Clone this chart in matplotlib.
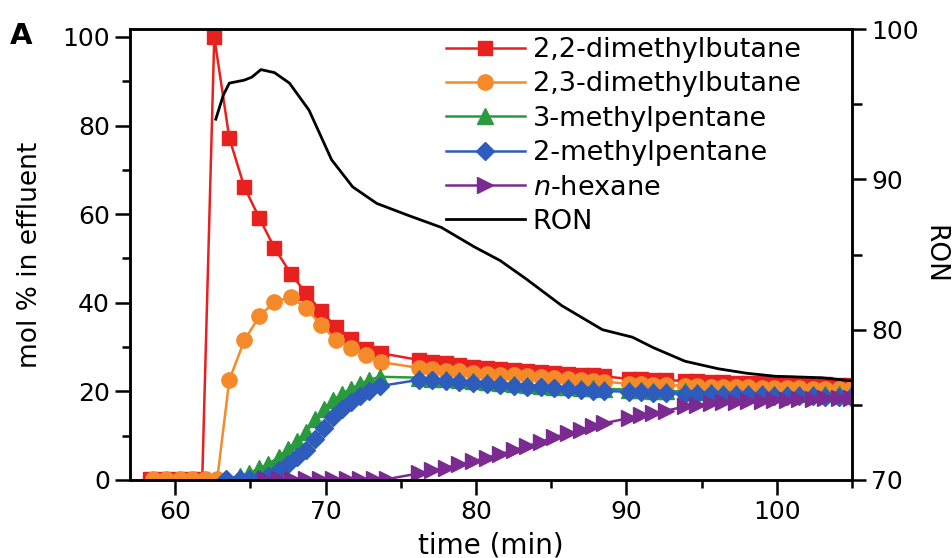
import matplotlib
matplotlib.use("Agg")
import matplotlib.pyplot as plt
from matplotlib.ticker import MultipleLocator

plt.rcParams['font.family'] = ['DejaVu Sans']

# late sampling times shared by all isomers (min)
t_late = [76.2, 77.1, 78.0, 78.9, 79.8, 80.7, 81.6, 82.5, 83.4, 84.3, 85.2, 86.1, 87.0, 87.8, 88.5,
          90.2, 91.0, 91.8, 92.6, 93.9, 94.7, 95.6, 96.4, 97.3, 98.1, 99.0, 99.8, 100.7, 101.5,
          102.4, 103.2, 104.1, 104.9]

# 2,2-dimethylbutane
t_22dmb = [58.3, 59.2, 60.1, 61.0, 61.8, 62.6, 63.6, 64.6, 65.6, 66.6, 67.7, 68.7, 69.7, 70.7,
           71.7, 72.7, 73.7] + t_late
y_22dmb = [0.3, 0.3, 0.3, 0.3, 0.3, 100.0, 77.2, 66.1, 59.1, 52.4, 46.5, 42.2, 38.1, 34.5,
           31.8, 29.6, 28.6,
           27.1, 26.7, 26.3, 26.0, 25.6, 25.3, 25.0, 24.8, 24.6, 24.4, 24.2, 24.0, 23.8, 23.6, 23.4,
           22.8, 22.7, 22.6, 22.5, 22.4, 22.3, 22.2, 22.1, 22.0, 22.0, 21.9, 21.8, 21.8, 21.7,
           21.6, 21.6, 21.5, 21.5]

# 2,3-dimethylbutane
t_23dmb = [58.5, 59.4, 60.3, 61.1, 62.0, 62.8, 63.6, 64.6, 65.6, 66.6, 67.7, 68.7, 69.7, 70.7,
           71.7, 72.7, 73.7] + t_late
y_23dmb = [0.3, 0.3, 0.3, 0.3, 0.3, 0.3, 22.6, 31.5, 37.0, 40.2, 41.3, 38.8, 35.0, 31.6,
           29.8, 28.2, 26.6,
           25.3, 25.0, 24.7, 24.5, 24.2, 24.0, 23.8, 23.6, 23.4, 23.2, 23.0, 22.8, 22.6, 22.4, 22.2,
           21.7, 21.6, 21.5, 21.4, 21.3, 21.2, 21.1, 21.0, 20.9, 20.9, 20.8, 20.8, 20.7, 20.7,
           20.6, 20.6, 20.5, 20.5]

# 3-methylpentane
t_3mp = [63.4, 64.3, 64.9, 65.6, 66.2, 66.9, 67.5, 68.1, 68.7, 69.3, 69.9, 70.5, 71.1, 71.7,
         72.3, 72.9, 73.6] + t_late
y_3mp = [0.3, 0.8, 1.5, 2.7, 3.6, 5.2, 7.0, 8.8, 10.8, 13.8, 16.0, 18.0, 19.5, 20.6,
         21.7, 22.6, 23.3,
         23.1, 22.9, 22.7, 22.5, 22.3, 22.1, 21.9, 21.7, 21.5, 21.3, 21.1, 21.0, 20.8, 20.7, 20.6,
         20.4, 20.3, 20.2, 20.1, 20.0, 19.9, 19.8, 19.7, 19.7, 19.6, 19.6, 19.5, 19.5, 19.4,
         19.4, 19.3, 19.3, 19.2]

# 2-methylpentane
t_2mp = [63.4, 64.3, 64.9, 65.6, 66.2, 66.9, 67.5, 68.1, 68.7, 69.3, 69.9, 70.5, 71.1, 71.7,
         72.3, 72.9, 73.6] + t_late
y_2mp = [0.2, 0.2, 0.2, 0.2, 0.8, 2.2, 3.6, 5.2, 6.8, 9.2, 11.8, 14.3, 16.0, 17.6,
         18.9, 20.1, 21.2,
         22.6, 22.5, 22.3, 22.1, 21.9, 21.7, 21.5, 21.3, 21.1, 20.9, 20.7, 20.5, 20.4, 20.2, 20.1,
         19.9, 19.8, 19.7, 19.6, 19.5, 19.4, 19.3, 19.2, 19.2, 19.1, 19.1, 19.0, 19.0, 18.9,
         18.9, 18.8, 18.8, 18.7]

# n-hexane
t_nhex = [66.0, 66.9, 67.8, 68.7, 69.6, 70.5, 71.4, 72.3, 73.2, 74.1] + t_late
y_nhex = [0.2, 0.2, 0.2, 0.2, 0.2, 0.2, 0.2, 0.2, 0.2, 0.2,
          1.5, 2.2, 2.8, 3.5, 4.2, 5.0, 5.8, 6.7, 7.6, 8.6, 9.6, 10.5, 11.3, 12.1, 12.8,
          14.0, 14.6, 15.1, 15.6, 16.6, 17.0, 17.3, 17.5, 17.7, 17.8, 17.9, 18.0, 18.1,
          18.2, 18.3, 18.4, 18.5, 18.6]

# research octane number (right axis)
t_ron = [62.7, 63.2, 63.6, 64.6, 65.1, 65.7, 66.6, 67.6, 68.9, 70.4, 71.8, 73.4, 75.5, 77.7,
         79.9, 81.6, 83.3, 85.7, 88.4, 90.4, 91.8, 93.9, 96.1, 98.0, 99.9, 101.5, 103.0, 105.0]
ron = [94.0, 95.6, 96.4, 96.6, 96.8, 97.3, 97.1, 96.4, 94.6, 91.3, 89.5, 88.4, 87.6, 86.8,
       85.5, 84.6, 83.4, 81.6, 80.0, 79.5, 78.8, 77.9, 77.4, 77.1, 76.9, 76.85, 76.8, 76.6]

labels = ['2,2-dimethylbutane', '2,3-dimethylbutane', '3-methylpentane',
          '2-methylpentane', r'$n$-hexane', 'RON']

fig = plt.figure(figsize=(9.52, 5.58), dpi=100)
ax = fig.add_axes([0.1366, 0.1398, 0.7584, 0.8082])
ax2 = ax.twinx()

ms = 10.5
lw = 1.8
h1, = ax.plot(t_22dmb, y_22dmb, color='#e8201e', marker='s', ms=ms, lw=lw, label=labels[0])
h2, = ax.plot(t_23dmb, y_23dmb, color='#f58a2a', marker='o', ms=ms + 0.5, lw=lw, label=labels[1])
h3, = ax.plot(t_3mp, y_3mp, color='#2a9a3e', marker='^', ms=ms + 0.5, lw=lw, label=labels[2])
h4, = ax.plot(t_2mp, y_2mp, color='#2d5cbd', marker='D', ms=ms - 1.0, lw=lw, label=labels[3])
h5, = ax.plot(t_nhex, y_nhex, color='#7a2a90', marker='>', ms=ms + 0.5, lw=lw, label=labels[4])
h6, = ax2.plot(t_ron, ron, color='black', lw=2.0, label=labels[5])

ax.set_xlim(57, 105)
ax.set_ylim(0, 101.8)
ax2.set_ylim(70, 100)

ax.xaxis.set_major_locator(MultipleLocator(10))
ax.xaxis.set_minor_locator(MultipleLocator(5))
ax.yaxis.set_major_locator(MultipleLocator(20))
ax.yaxis.set_minor_locator(MultipleLocator(10))
ax2.yaxis.set_major_locator(MultipleLocator(10))
ax2.yaxis.set_minor_locator(MultipleLocator(5))

for a in (ax, ax2):
    for s in a.spines.values():
        s.set_linewidth(1.8)
ax.tick_params(which='major', direction='out', length=10.5, width=1.8, labelsize=18, pad=4,
               top=False, right=False)
ax.tick_params(which='minor', direction='out', length=6, width=1.8, top=False, right=False)
ax2.tick_params(which='major', direction='out', length=10, width=1.8, labelsize=18, pad=4)
ax2.tick_params(which='minor', direction='out', length=7, width=1.8)

ax.set_xlabel('time (min)', fontsize=20, labelpad=5)
ax.set_ylabel('mol % in effluent', fontsize=19, labelpad=14)
ax2.set_ylabel('RON', fontsize=19, rotation=270, labelpad=20)

fig.text(0.01, 0.935, 'A', fontsize=21, fontweight='bold', va='center')

ax2.legend(handles=[h1, h2, h3, h4, h5, h6], loc='upper left',
           bbox_to_anchor=(446 / 952, 1 - 37 / 558), bbox_transform=fig.transFigure,
           frameon=False, fontsize=19.5, handlelength=2.9, handletextpad=0.3,
           labelspacing=0.31, borderpad=0, borderaxespad=0, markerscale=1.0)

fig.savefig('out.png', dpi=100)
